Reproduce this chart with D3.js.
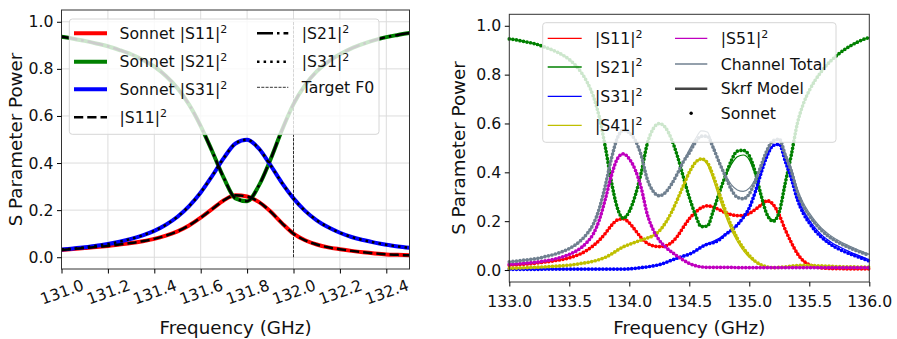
<!DOCTYPE html>
<html>
<head>
<meta charset="utf-8">
<script src="https://cdn.jsdelivr.net/npm/d3@7"></script>
<style>
  body { margin: 0; background: #fff; }
  text { font-family: "DejaVu Sans", sans-serif; fill: #111; }
</style>
</head>
<body>
<svg id="chart" width="897" height="339"></svg>
<script>
// ---- left panel: single channel, 131.0 - 132.5 GHz ----
const freqL = [131.00,131.05,131.10,131.15,131.20,131.25,131.30,131.35,131.40,131.45,131.50,131.55,131.60,131.65,131.70,131.75,
  131.80,131.85,131.90,131.95,132.00,132.05,132.10,132.15,132.20,132.25,132.30,132.35,132.40,132.45,132.50];
const s11L = [0.031,0.035,0.039,0.043,0.048,0.054,0.060,0.068,0.078,0.092,0.110,0.135,0.168,0.205,0.242,0.263,
  0.258,0.235,0.195,0.145,0.100,0.072,0.054,0.042,0.034,0.027,0.021,0.016,0.012,0.010,0.008];
const s21L = [0.936,0.928,0.919,0.908,0.896,0.880,0.862,0.839,0.810,0.770,0.718,0.648,0.557,0.449,0.336,0.250,
  0.238,0.303,0.413,0.539,0.650,0.731,0.789,0.831,0.862,0.887,0.906,0.922,0.935,0.944,0.952];
const s31L = [0.033,0.037,0.042,0.049,0.056,0.066,0.078,0.093,0.112,0.138,0.172,0.217,0.275,0.346,0.422,0.483,
  0.499,0.462,0.392,0.316,0.250,0.197,0.157,0.127,0.104,0.086,0.073,0.062,0.053,0.046,0.040];
const targetF0 = 132.0;
const xTicksL = [131.0,131.2,131.4,131.6,131.8,132.0,132.2,132.4];

// ---- right panel: multiplexer, 133.0 - 136.0 GHz ----
const freqR = [133.00,133.05,133.10,133.15,133.20,133.25,133.30,133.35,133.40,133.45,
  133.50,133.55,133.60,133.65,133.70,133.75,133.80,133.85,133.90,133.95,
  134.00,134.05,134.10,134.15,134.20,134.25,134.30,134.35,134.40,134.45,
  134.50,134.55,134.60,134.65,134.70,134.75,134.80,134.85,134.90,134.95,
  135.00,135.05,135.10,135.15,135.20,135.25,135.30,135.35,135.40,135.45,
  135.50,135.55,135.60,135.65,135.70,135.75,135.80,135.85,135.90,135.95,136.00];

// skrf model
const s11M = [0.020,0.021,0.023,0.025,0.027,0.030,0.033,0.036,0.040,0.044,
  0.050,0.058,0.068,0.082,0.100,0.122,0.150,0.182,0.205,0.210,
  0.193,0.163,0.132,0.110,0.099,0.096,0.099,0.112,0.138,0.175,
  0.210,0.236,0.255,0.263,0.258,0.247,0.235,0.227,0.223,0.224,
  0.232,0.248,0.267,0.279,0.265,0.225,0.165,0.113,0.068,0.038,
  0.022,0.013,0.009,0.007,0.006,0.006,0.005,0.005,0.005,0.005,0.005];
const s21M = [0.946,0.943,0.938,0.933,0.928,0.921,0.912,0.903,0.892,0.879,
  0.862,0.839,0.809,0.768,0.712,0.626,0.504,0.364,0.255,0.215,
  0.242,0.306,0.400,0.518,0.579,0.600,0.584,0.538,0.468,0.382,
  0.298,0.228,0.180,0.182,0.243,0.317,0.381,0.432,0.464,0.471,
  0.451,0.389,0.303,0.228,0.205,0.239,0.357,0.471,0.599,0.680,
  0.735,0.778,0.812,0.842,0.866,0.887,0.905,0.920,0.933,0.944,0.952];
const s31M = [0.003,0.003,0.003,0.003,0.003,0.003,0.004,0.004,0.004,0.004,
  0.004,0.004,0.004,0.004,0.004,0.004,0.004,0.004,0.004,0.004,
  0.005,0.007,0.010,0.013,0.017,0.022,0.030,0.040,0.049,0.057,
  0.065,0.078,0.094,0.108,0.118,0.130,0.148,0.165,0.185,0.215,
  0.255,0.320,0.400,0.470,0.510,0.515,0.455,0.390,0.305,0.245,
  0.205,0.172,0.145,0.125,0.108,0.095,0.083,0.072,0.062,0.052,0.042];
const s41M = [0.007,0.008,0.009,0.010,0.011,0.012,0.013,0.015,0.016,0.018,
  0.020,0.023,0.027,0.031,0.036,0.043,0.052,0.065,0.081,0.095,
  0.105,0.114,0.123,0.131,0.141,0.160,0.192,0.235,0.288,0.345,
  0.400,0.440,0.455,0.432,0.370,0.295,0.225,0.165,0.118,0.080,
  0.052,0.033,0.020,0.013,0.010,0.011,0.013,0.016,0.018,0.019,
  0.019,0.018,0.017,0.016,0.015,0.014,0.013,0.013,0.012,0.012,0.012];
const s51M = [0.024,0.025,0.027,0.029,0.031,0.034,0.038,0.042,0.048,0.055,
  0.064,0.076,0.092,0.115,0.148,0.205,0.290,0.385,0.455,0.476,
  0.455,0.410,0.335,0.228,0.164,0.122,0.095,0.075,0.057,0.041,
  0.027,0.018,0.013,0.011,0.011,0.011,0.011,0.011,0.010,0.010,
  0.010,0.010,0.010,0.010,0.010,0.010,0.010,0.010,0.010,0.010,
  0.010,0.010,0.010,0.010,0.010,0.010,0.010,0.010,0.010,0.010,0.010];
const totalM = [0.034,0.036,0.039,0.042,0.045,0.049,0.055,0.061,0.068,0.077,
  0.088,0.103,0.123,0.150,0.188,0.252,0.346,0.454,0.540,0.575,
  0.565,0.531,0.468,0.372,0.322,0.304,0.317,0.350,0.394,0.443,
  0.492,0.536,0.570,0.565,0.505,0.440,0.390,0.350,0.328,0.322,
  0.335,0.373,0.430,0.493,0.530,0.536,0.478,0.416,0.333,0.274,
  0.234,0.200,0.172,0.151,0.133,0.119,0.106,0.095,0.084,0.074,0.064];

// sonnet simulation
const s11S = [0.020,0.021,0.023,0.025,0.027,0.030,0.033,0.036,0.040,0.044,
  0.050,0.058,0.068,0.082,0.100,0.122,0.150,0.182,0.205,0.210,
  0.193,0.163,0.132,0.110,0.099,0.096,0.099,0.112,0.138,0.175,
  0.210,0.236,0.255,0.263,0.258,0.247,0.235,0.227,0.223,0.224,
  0.232,0.248,0.267,0.284,0.268,0.225,0.165,0.113,0.068,0.038,
  0.022,0.013,0.009,0.007,0.006,0.006,0.005,0.005,0.005,0.005,0.005];
const s21S = [0.946,0.943,0.938,0.933,0.928,0.921,0.912,0.903,0.892,0.879,
  0.862,0.839,0.809,0.768,0.712,0.626,0.504,0.364,0.255,0.212,
  0.240,0.306,0.400,0.518,0.579,0.600,0.584,0.538,0.468,0.382,
  0.298,0.228,0.178,0.180,0.243,0.317,0.385,0.448,0.487,0.490,
  0.468,0.400,0.303,0.225,0.200,0.239,0.357,0.471,0.599,0.680,
  0.735,0.778,0.812,0.842,0.866,0.887,0.905,0.920,0.933,0.944,0.952];
const s31S = [0.003,0.003,0.003,0.003,0.003,0.003,0.004,0.004,0.004,0.004,
  0.004,0.004,0.004,0.004,0.004,0.004,0.004,0.004,0.004,0.004,
  0.005,0.007,0.010,0.013,0.017,0.022,0.030,0.040,0.049,0.057,
  0.065,0.078,0.094,0.106,0.112,0.124,0.145,0.163,0.185,0.215,
  0.255,0.320,0.400,0.470,0.510,0.515,0.445,0.375,0.290,0.232,
  0.193,0.160,0.135,0.115,0.098,0.085,0.074,0.064,0.055,0.046,0.037];
const s41S = [0.007,0.008,0.009,0.010,0.011,0.012,0.013,0.015,0.016,0.018,
  0.020,0.023,0.027,0.031,0.036,0.043,0.052,0.065,0.081,0.095,
  0.105,0.114,0.123,0.131,0.141,0.160,0.192,0.235,0.288,0.345,
  0.400,0.440,0.455,0.440,0.385,0.315,0.245,0.182,0.130,0.090,
  0.060,0.036,0.021,0.013,0.010,0.011,0.013,0.016,0.018,0.019,
  0.019,0.018,0.017,0.016,0.015,0.014,0.013,0.013,0.012,0.012,0.012];
const s51S = [0.024,0.025,0.027,0.029,0.031,0.034,0.038,0.042,0.048,0.055,
  0.064,0.076,0.092,0.115,0.148,0.205,0.290,0.385,0.455,0.476,
  0.455,0.410,0.335,0.228,0.164,0.122,0.095,0.075,0.057,0.041,
  0.027,0.018,0.013,0.011,0.011,0.011,0.011,0.011,0.010,0.010,
  0.010,0.010,0.010,0.010,0.010,0.010,0.010,0.010,0.010,0.010,
  0.010,0.010,0.010,0.010,0.010,0.010,0.010,0.010,0.010,0.010,0.010];
const totalS = [0.034,0.036,0.039,0.042,0.045,0.049,0.055,0.061,0.068,0.077,
  0.088,0.103,0.123,0.150,0.188,0.252,0.346,0.454,0.540,0.572,
  0.562,0.531,0.468,0.372,0.322,0.304,0.317,0.350,0.394,0.443,
  0.480,0.522,0.548,0.548,0.500,0.440,0.385,0.330,0.298,0.292,
  0.312,0.365,0.430,0.493,0.530,0.536,0.470,0.405,0.320,0.262,
  0.222,0.190,0.163,0.142,0.125,0.111,0.099,0.088,0.078,0.069,0.060];
const xTicksR = [133.0,133.5,134.0,134.5,135.0,135.5,136.0];
const yTicks = [0.0,0.2,0.4,0.6,0.8,1.0];

const svg = d3.select("#chart");
const tickFont = 15.7, labelFont = 18.3, legendFont = 15.7;

// legend: frame plus two columns of handle + label
function drawLegend(g, box, items) {
  g.append("rect")
    .attr("x", box.x).attr("y", box.y).attr("width", box.w).attr("height", box.h)
    .attr("rx", 3)
    .attr("fill", "#fff").attr("fill-opacity", 0.8)
    .attr("stroke", "#d6d6d6").attr("stroke-width", 1);
  items.forEach(it => {
    if (it.dot) {
      g.append("circle").attr("cx", (it.x1 + it.x2) / 2).attr("cy", it.y).attr("r", 1.7).attr("fill", "#000");
    } else {
      g.append("line")
        .attr("x1", it.x1).attr("x2", it.x2).attr("y1", it.y).attr("y2", it.y)
        .attr("stroke", it.color).attr("stroke-width", it.width)
        .attr("stroke-dasharray", it.dash || null);
    }
    const t = g.append("text").attr("x", it.tx).attr("y", it.y + 5.7).attr("font-size", legendFont);
    t.append("tspan").text(it.label);
    if (it.sup) t.append("tspan").attr("font-size", 11).attr("dy", -6.5).text(it.sup);
  });
}

// ================= left panel =================
const xL = d3.scaleLinear().domain([131.0, 132.5]).range([61.5, 409.5]);
const yL = d3.scaleLinear().domain([-0.05, 1.05]).range([269, 10]);
const left = svg.append("g");

left.append("g").selectAll("line").data(xTicksL).enter().append("line")
  .attr("x1", d => xL(d)).attr("x2", d => xL(d)).attr("y1", yL.range()[1]).attr("y2", yL.range()[0])
  .attr("stroke", "#dcdcdc").attr("stroke-width", 1);
left.append("g").selectAll("line").data(yTicks).enter().append("line")
  .attr("x1", xL.range()[0]).attr("x2", xL.range()[1]).attr("y1", d => yL(d)).attr("y2", d => yL(d))
  .attr("stroke", "#dcdcdc").attr("stroke-width", 1);

const lineL = d3.line().x((d, i) => xL(freqL[i])).y(d => yL(d)).curve(d3.curveMonotoneX);

// sonnet (thick, coloured)
[[s11L, "#ff0000"], [s21L, "#008000"], [s31L, "#0000ff"]].forEach(([vals, c]) => {
  left.append("path").attr("d", lineL(vals)).attr("fill", "none")
    .attr("stroke", c).attr("stroke-width", 4);
});
// model (black, styled)
[[s11L, "9.25,4"], [s21L, "16,4,2.5,4"], [s31L, "2.5,4.1"]].forEach(([vals, dash]) => {
  left.append("path").attr("d", lineL(vals)).attr("fill", "none")
    .attr("stroke", "#000").attr("stroke-width", 2.5).attr("stroke-dasharray", dash);
});
left.append("line")
  .attr("x1", xL(targetF0)).attr("x2", xL(targetF0)).attr("y1", yL(0)).attr("y2", yL(1))
  .attr("stroke", "#000").attr("stroke-width", 0.8).attr("stroke-dasharray", "3,1.3");

drawLegend(left, {x: 69.3, y: 19, w: 309.7, h: 115.3}, [
  {x1: 74, x2: 107, tx: 119.5, y: 33.3, color: "#ff0000", width: 4, label: "Sonnet |S11|", sup: "2"},
  {x1: 74, x2: 107, tx: 119.5, y: 61.7, color: "#008000", width: 4, label: "Sonnet |S21|", sup: "2"},
  {x1: 74, x2: 107, tx: 119.5, y: 89.3, color: "#0000ff", width: 4, label: "Sonnet |S31|", sup: "2"},
  {x1: 74, x2: 107, tx: 119.5, y: 117.3, color: "#000", width: 2.5, dash: "9.25,4", label: "|S11|", sup: "2"},
  {x1: 257, x2: 288.3, tx: 301.7, y: 33.3, color: "#000", width: 2.5, dash: "16,4,2.5,4", label: "|S21|", sup: "2"},
  {x1: 257, x2: 288.3, tx: 301.7, y: 61.7, color: "#000", width: 2.5, dash: "2.5,4.1", label: "|S31|", sup: "2"},
  {x1: 257, x2: 288.3, tx: 301.7, y: 87.3, color: "#000", width: 0.8, dash: "3,1.3", label: "Target F0"}
]);

left.append("rect")
  .attr("x", xL.range()[0]).attr("y", yL.range()[1])
  .attr("width", xL.range()[1] - xL.range()[0]).attr("height", yL.range()[0] - yL.range()[1])
  .attr("fill", "none").attr("stroke", "#333").attr("stroke-width", 1);

const axLx = left.append("g").attr("transform", "translate(0," + yL.range()[0] + ")")
  .call(d3.axisBottom(xL).tickValues(xTicksL).tickFormat(d3.format(".1f")).tickSize(4.5).tickSizeOuter(0));
axLx.select(".domain").remove();
axLx.attr("font-size", tickFont).attr("font-family", "DejaVu Sans");
axLx.selectAll("text").attr("y", 0).attr("dy", "0.35em").attr("text-anchor", "middle")
  .attr("transform", "translate(0,23) rotate(-20)");

const axLy = left.append("g").attr("transform", "translate(" + xL.range()[0] + ",0)")
  .call(d3.axisLeft(yL).tickValues(yTicks).tickFormat(d3.format(".1f")).tickSize(4.5).tickPadding(3.5).tickSizeOuter(0));
axLy.select(".domain").remove();
axLy.attr("font-size", tickFont).attr("font-family", "DejaVu Sans");

left.append("text").attr("x", 235.5).attr("y", 334).attr("text-anchor", "middle")
  .attr("font-size", labelFont).text("Frequency (GHz)");
left.append("text").attr("transform", "translate(21.5,139.5) rotate(-90)").attr("text-anchor", "middle")
  .attr("font-size", labelFont).text("S Parameter Power");

// ================= right panel =================
const xR = d3.scaleLinear().domain([133.0, 136.0]).range([509.3, 869.3]);
const yR = d3.scaleLinear().domain([-0.049, 1.047]).range([282, 14.3]);
const right = svg.append("g");

const lineR = d3.line().x((d, i) => xR(freqR[i])).y(d => yR(d)).curve(d3.curveMonotoneX);

const seriesR = [
  {sonnet: s11S, model: s11M, color: "#ff0000"},
  {sonnet: s21S, model: s21M, color: "#008000"},
  {sonnet: s31S, model: s31M, color: "#0000ff"},
  {sonnet: s41S, model: s41M, color: "#bfbf00"},
  {sonnet: s51S, model: s51M, color: "#bf00bf"},
  {sonnet: totalS, model: totalM, color: "#708090"}
];
seriesR.forEach(s => {
  // sonnet points as beads along the sweep
  right.append("path").attr("d", lineR(s.sonnet)).attr("fill", "none")
    .attr("stroke", s.color).attr("stroke-width", 3.7)
    .attr("stroke-linecap", "round").attr("stroke-dasharray", "0,3.6");
  right.append("path").attr("d", lineR(s.model)).attr("fill", "none")
    .attr("stroke", s.color).attr("stroke-width", 1.2);
});

drawLegend(right, {x: 542.7, y: 22.7, w: 293.3, h: 119.6}, [
  {x1: 547.7, x2: 581.7, tx: 595, y: 38.3, color: "#ff0000", width: 1.3, label: "|S11|", sup: "2"},
  {x1: 547.7, x2: 581.7, tx: 595, y: 67, color: "#008000", width: 1.3, label: "|S21|", sup: "2"},
  {x1: 547.7, x2: 581.7, tx: 595, y: 96.3, color: "#0000ff", width: 1.3, label: "|S31|", sup: "2"},
  {x1: 547.7, x2: 581.7, tx: 595, y: 125.3, color: "#bfbf00", width: 1.3, label: "|S41|", sup: "2"},
  {x1: 675, x2: 707.3, tx: 720.7, y: 38.3, color: "#bf00bf", width: 1.3, label: "|S51|", sup: "2"},
  {x1: 675, x2: 707.3, tx: 720.7, y: 64, color: "#708090", width: 1.3, label: "Channel Total"},
  {x1: 675, x2: 707.3, tx: 720.7, y: 88.7, color: "#444", width: 2.5, label: "Skrf Model"},
  {x1: 675, x2: 707.3, tx: 720.7, y: 113.3, dot: true, label: "Sonnet"}
]);

right.append("rect")
  .attr("x", xR.range()[0]).attr("y", yR.range()[1])
  .attr("width", xR.range()[1] - xR.range()[0]).attr("height", yR.range()[0] - yR.range()[1])
  .attr("fill", "none").attr("stroke", "#333").attr("stroke-width", 1);

const axRx = right.append("g").attr("transform", "translate(0," + yR.range()[0] + ")")
  .call(d3.axisBottom(xR).tickValues(xTicksR).tickFormat(d3.format(".1f")).tickSize(4.5).tickSizeOuter(0));
axRx.select(".domain").remove();
axRx.attr("font-size", tickFont).attr("font-family", "DejaVu Sans");
axRx.selectAll("text").attr("y", 24.5).attr("dy", 0);

const axRy = right.append("g").attr("transform", "translate(" + xR.range()[0] + ",0)")
  .call(d3.axisLeft(yR).tickValues(yTicks).tickFormat(d3.format(".1f")).tickSize(4.5).tickPadding(3.5).tickSizeOuter(0));
axRy.select(".domain").remove();
axRy.attr("font-size", tickFont).attr("font-family", "DejaVu Sans");

right.append("text").attr("x", 689.3).attr("y", 334).attr("text-anchor", "middle")
  .attr("font-size", labelFont).text("Frequency (GHz)");
right.append("text").attr("transform", "translate(465,148) rotate(-90)").attr("text-anchor", "middle")
  .attr("font-size", labelFont).text("S Parameter Power");
</script>
</body>
</html>
